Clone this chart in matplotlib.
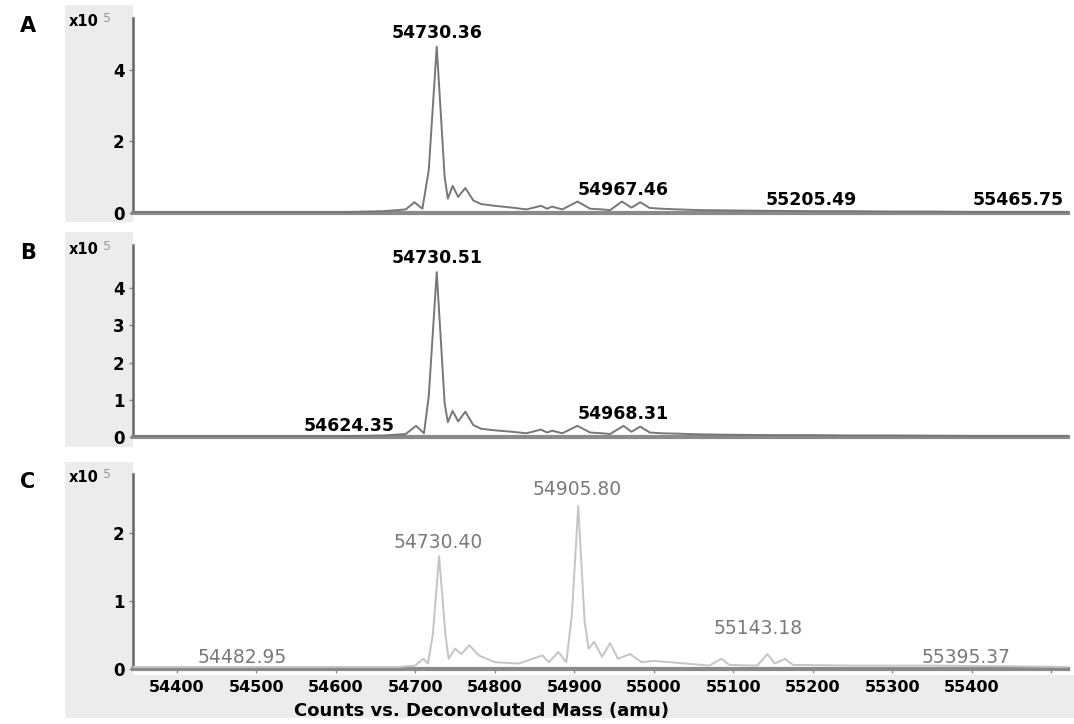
import numpy as np
import matplotlib
matplotlib.use('Agg')
import matplotlib.pyplot as plt
from matplotlib.patches import Rectangle

# ---- data (mass in amu, counts in 1e5) ----
massA = [54345, 54600, 54660, 54688, 54699, 54709, 54717, 54727, 54737, 54741, 54747, 54754, 54763,
         54773, 54783, 54800, 54822, 54840, 54858, 54866, 54872, 54885, 54904, 54920, 54935, 54945,
         54960, 54972, 54983, 54995, 55010, 55030, 55060, 55100, 55150, 55200, 55250, 55300, 55350,
         55400, 55450, 55521]
intA = [0.02, 0.02, 0.05, 0.1, 0.3, 0.12, 1.2, 4.65, 1.0, 0.4, 0.76, 0.45, 0.7,
        0.35, 0.25, 0.2, 0.15, 0.1, 0.2, 0.12, 0.18, 0.1, 0.32, 0.12, 0.1, 0.08,
        0.32, 0.15, 0.3, 0.14, 0.12, 0.1, 0.08, 0.07, 0.06, 0.05, 0.05, 0.04, 0.04,
        0.03, 0.03, 0.03]

massB = [54345, 54600, 54660, 54688, 54701, 54711, 54717, 54727, 54737, 54741, 54747, 54754, 54763,
         54773, 54783, 54800, 54822, 54840, 54858, 54866, 54872, 54885, 54904, 54920, 54935, 54945,
         54962, 54972, 54983, 54995, 55010, 55030, 55060, 55100, 55150, 55200, 55250, 55300, 55400,
         55521]
intB = [0.02, 0.02, 0.04, 0.08, 0.3, 0.1, 1.1, 4.43, 0.9, 0.4, 0.7, 0.42, 0.68,
        0.32, 0.22, 0.18, 0.14, 0.1, 0.2, 0.12, 0.17, 0.1, 0.3, 0.12, 0.1, 0.08,
        0.3, 0.14, 0.28, 0.12, 0.1, 0.09, 0.07, 0.06, 0.05, 0.05, 0.04, 0.04, 0.03,
        0.03]

massC = [54345, 54600, 54680, 54700, 54710, 54716, 54722, 54730, 54738, 54742, 54750, 54758, 54768,
         54780, 54800, 54830, 54860, 54868, 54880, 54890, 54897, 54905, 54913, 54918, 54925, 54935,
         54945, 54955, 54970, 54985, 55000, 55040, 55070, 55085, 55095, 55130, 55143, 55152, 55165,
         55175, 55250, 55350, 55450, 55521]
intC = [0.03, 0.03, 0.03, 0.05, 0.15, 0.08, 0.5, 1.66, 0.5, 0.15, 0.3, 0.22, 0.35,
        0.2, 0.1, 0.08, 0.2, 0.1, 0.25, 0.1, 0.8, 2.4, 0.7, 0.3, 0.4, 0.18,
        0.38, 0.15, 0.22, 0.1, 0.12, 0.08, 0.05, 0.15, 0.06, 0.05, 0.22, 0.08, 0.15,
        0.06, 0.05, 0.05, 0.04, 0.03]

# (label text, x position in amu, y position in 1e5 counts)
labelsA = [('54730.36', 54727, 4.78), ('54967.46', 54961, 0.4), ('55205.49', 55198, 0.12),
           ('55465.75', 55458, 0.12)]
labelsB = [('54730.51', 54727, 4.56), ('54624.35', 54617, 0.06), ('54968.31', 54961, 0.38)]
labelsC = [('54730.40', 54729, 1.72), ('54905.80', 54904, 2.5), ('54482.95', 54482, 0.03),
           ('55143.18', 55131, 0.45), ('55395.37', 55393, 0.03)]

yticksA = [0, 2, 4]
yticksB = [0, 1, 2, 3, 4]
yticksC = [0, 1, 2]
xticks = [54400, 54500, 54600, 54700, 54800, 54900, 55000, 55100, 55200, 55300, 55400, 55500]
xtick_labels = ['54400', '54500', '54600', '54700', '54800', '54900', '55000', '55100',
                '55200', '55300', '55400', '']

W, H = 1074., 724.
fig = plt.figure(figsize=(W / 100, H / 100), dpi=100)
fig.patch.set_facecolor('white')


def fx(px):
    return px / W


def fy(py):
    return 1 - py / H


def grey(x0, y0, x1, y1):
    fig.patches.append(Rectangle((fx(x0), fy(y1)), fx(x1 - x0), (y1 - y0) / H,
                                 transform=fig.transFigure, facecolor='#ececec',
                                 edgecolor='none', zorder=-5))


grey(65, 5, 133, 222)
grey(65, 232, 133, 447)
grey(65, 462, 133, 718)
grey(65, 675, 1074, 718)

panels = [
    ('A', 18, 213, massA, intA, 5.45, yticksA, labelsA, '#777777', 'bold', 'black', 12.5),
    ('B', 245, 437, massB, intB, 5.16, yticksB, labelsB, '#777777', 'bold', 'black', 12.5),
    ('C', 474, 669, massC, intC, 2.87, yticksC, labelsC, '#c4c4c4', 'normal', '#7a7a7a', 13.5),
]

for letter, top, bot, m, y, ymax, yt, labs, lc, fw, tc, fs in panels:
    ax = fig.add_axes([fx(133), fy(bot), fx(1068 - 133), (bot - top) / H])
    ax.set_zorder(2)
    ax.set_facecolor('white')
    ax.plot(m, y, color=lc, lw=1.4, zorder=3)
    ax.set_xlim(54345, 55521)
    ax.set_ylim(0, ymax)
    for sp in ['top', 'right']:
        ax.spines[sp].set_visible(False)
    ax.spines['left'].set_color('#666666')
    ax.spines['left'].set_linewidth(1.8)
    ax.spines['bottom'].set_color('#8a8a8a')
    ax.spines['bottom'].set_linewidth(3)
    ax.set_yticks(yt)
    ax.set_yticklabels([str(v) for v in yt], fontsize=12, fontweight='bold')
    ax.tick_params(axis='y', length=3, width=1, color='#888888', pad=3)
    if letter == 'C':
        ax.set_xticks(xticks)
        ax.set_xticklabels(xtick_labels, fontsize=11.5, fontweight='bold')
        ax.tick_params(axis='x', length=3, width=1, color='#888888', direction='out', pad=5)
    else:
        ax.set_xticks([])
    for txt, xx, yy in labs:
        ax.text(xx, yy, txt, ha='center', va='bottom', fontsize=fs,
                fontweight=fw, color=tc, zorder=4)
    fig.text(fx(20), fy(top + 8), letter, fontsize=15, fontweight='bold', ha='left', va='center')
    fig.text(fx(69), fy(top + 4), 'x10', fontsize=10.5, fontweight='bold', ha='left', va='center')
    fig.text(fx(103), fy(top + 1), '5', fontsize=9, color='#999999', ha='left', va='center')

fig.text(fx(481), fy(711), 'Counts vs. Deconvoluted Mass (amu)', fontsize=13, fontweight='bold',
         ha='center', va='center')

fig.savefig('out.png', dpi=100)
